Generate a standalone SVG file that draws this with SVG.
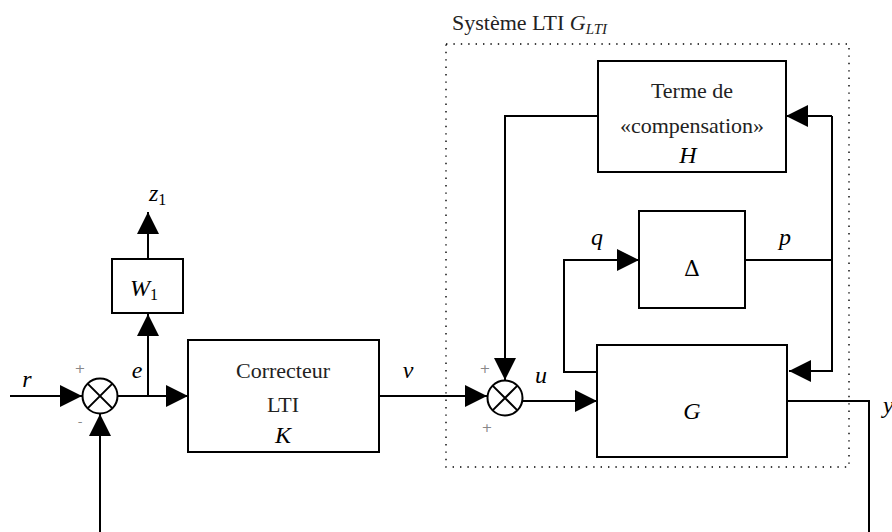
<svg xmlns="http://www.w3.org/2000/svg" width="892" height="532" viewBox="0 0 892 532">
<style>
.box{fill:#fff;stroke:#000;stroke-width:2}
.ln{fill:none;stroke:#000;stroke-width:2}
.t{font-family:"Liberation Serif","Times New Roman",serif;font-size:22px;fill:#222}
.m{font-family:"Liberation Serif","Times New Roman",serif;font-style:italic;font-size:24px;fill:#000}
.sg{font-family:"DejaVu Sans",sans-serif;font-size:13px;fill:#888}
.sum{fill:#fff;stroke:#000;stroke-width:2}
</style>
<defs>
<marker id="ah" markerUnits="userSpaceOnUse" markerWidth="22" markerHeight="22" refX="22" refY="11" orient="auto">
<path d="M0,0 L22,11 L0,22 z" fill="#000"/>
</marker>
</defs>

<rect id="lti-frame" x="446" y="44" width="403" height="423" fill="none" stroke="#000" stroke-width="1.4" stroke-dasharray="1.4 6"/>
<text class="t" x="452" y="30" font-size="20">Système LTI <tspan font-style="italic">G</tspan><tspan font-style="italic" font-size="15" dy="4">LTI</tspan></text>

<g id="connectors">
<path class="ln" d="M10,396 H82" marker-end="url(#ah)"/>
<path class="ln" d="M118,396 H188" marker-end="url(#ah)"/>
<path class="ln" d="M148,396 V314" marker-end="url(#ah)"/>
<path class="ln" d="M148,259 V212" marker-end="url(#ah)"/>
<path class="ln" d="M379,396 H487" marker-end="url(#ah)"/>
<path class="ln" d="M598,116 H505 V380" marker-end="url(#ah)"/>
<path class="ln" d="M523,401 H597" marker-end="url(#ah)"/>
<path class="ln" d="M597,372 H564 V260 H639" marker-end="url(#ah)"/>
<path class="ln" d="M745,260 H832"/>
<path class="ln" d="M832,116 H786" marker-end="url(#ah)"/>
<path class="ln" d="M832,116 V371 H789" marker-end="url(#ah)"/>
<path class="ln" d="M787,401 H869 V560 H100 V414" marker-end="url(#ah)"/>
</g>

<g id="labels">
<text class="m" x="27" y="387" text-anchor="middle">r</text>
<text class="m" x="137" y="378" text-anchor="middle">e</text>
<text class="m" x="149" y="201">z<tspan font-style="normal" font-size="16" dy="4">1</tspan></text>
<text class="m" x="408" y="378" text-anchor="middle">v</text>
<text class="m" x="541" y="383" text-anchor="middle">u</text>
<text class="m" x="597" y="245" text-anchor="middle">q</text>
<text class="m" x="785" y="245" text-anchor="middle">p</text>
<text class="m" x="883" y="413">y</text>
</g>

<g id="sum1">
<circle class="sum" cx="100" cy="396" r="17.5"/>
<path class="ln" d="M87.6,383.6 L112.4,408.4 M112.4,383.6 L87.6,408.4"/>
<text class="sg" x="80" y="373" text-anchor="middle">+</text>
<text class="sg" x="80" y="426" text-anchor="middle">-</text>
</g>

<g id="sum2">
<circle class="sum" cx="505" cy="398" r="17.5"/>
<path class="ln" d="M492.6,385.6 L517.4,410.4 M517.4,385.6 L492.6,410.4"/>
<text class="sg" x="485" y="373" text-anchor="middle">+</text>
<text class="sg" x="487" y="432" text-anchor="middle">+</text>
</g>

<g id="W1">
<rect class="box" x="112" y="259" width="71" height="54"/>
<text class="m" x="144" y="296" text-anchor="middle">W<tspan font-style="normal" font-size="16" dy="4">1</tspan></text>
</g>

<g id="K">
<rect class="box" x="188" y="340" width="191" height="112"/>
<text class="t" x="283" y="378" text-anchor="middle">Correcteur</text>
<text class="t" x="283" y="412" text-anchor="middle">LTI</text>
<text class="m" x="283" y="443" text-anchor="middle">K</text>
</g>

<g id="H">
<rect class="box" x="598" y="61" width="188" height="111"/>
<text class="t" x="692" y="98" text-anchor="middle">Terme de</text>
<text class="t" x="692" y="133" text-anchor="middle">«compensation»</text>
<text class="m" x="688" y="163" text-anchor="middle">H</text>
</g>

<g id="Delta">
<rect class="box" x="639" y="211" width="106" height="97"/>
<text x="692" y="276" text-anchor="middle" font-family="'DejaVu Serif',serif" font-size="22" fill="#000">Δ</text>
</g>

<g id="G">
<rect class="box" x="597" y="345" width="190" height="112"/>
<text class="m" x="692" y="419" text-anchor="middle">G</text>
</g>
</svg>
